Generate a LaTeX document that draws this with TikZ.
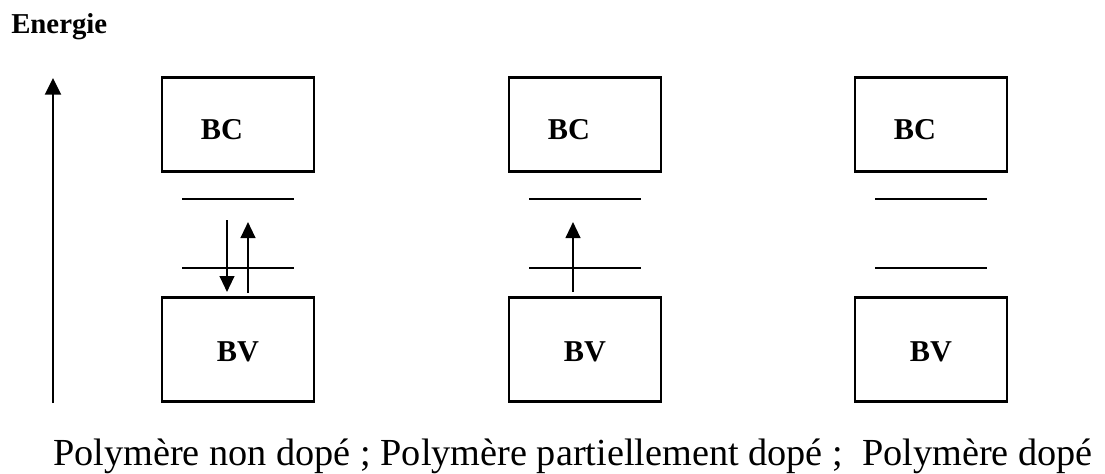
\documentclass[tikz,border=0pt]{standalone}
\usepackage{fontspec}
\setmainfont{Liberation Serif}
\usetikzlibrary{arrows.meta}
\begin{document}
\begin{tikzpicture}[x=0.75pt,y=-0.75pt,
  band/.style={draw,line width=2.2pt,minimum width=114pt,minimum height=70pt,inner sep=0pt},
  bv/.style={draw,line width=2.2pt,minimum width=114pt,minimum height=78pt,inner sep=0pt},
  lbl/.style={font=\fontsize{22.7}{26}\selectfont\bfseries,inner sep=0pt,anchor=base},
  level/.style={line width=1.4pt},
  trans/.style={line width=1.6pt,-{Triangle[length=12pt,width=11pt]}},
  axis/.style={line width=1.6pt,-{Triangle[length=12.5pt,width=12pt]}}]
\useasboundingbox (0,0) rectangle (1105,474);
% axis
\node[font=\fontsize{21.6}{24}\selectfont\bfseries,inner sep=0pt,anchor=base west] (en) at (11,34) {Energie};
\coordinate (a0) at (53,403);
\coordinate (a1) at (53,78);
\draw[axis] (a0) -- (a1);
% columns
\foreach \i/\cx in {1/238,2/585,3/931}{
  \node[band] (bc\i) at (\cx,124.5) {};
  \node[bv] (bv\i) at (\cx,349.5) {};
  \node[lbl] (bct\i) at (\cx-16,140) {BC};
  \node[lbl] (bvt\i) at (\cx,361) {BV};
  \coordinate (u\i l) at (\cx-56,199);
  \coordinate (u\i r) at (\cx+56,199);
  \coordinate (d\i l) at (\cx-56,268);
  \coordinate (d\i r) at (\cx+56,268);
  \draw[level] (u\i l) -- (u\i r);
  \draw[level] (d\i l) -- (d\i r);
}
% transitions
\coordinate (t1a) at (227,220);
\coordinate (t1b) at (227,292);
\coordinate (t2a) at (248,293);
\coordinate (t2b) at (248,222);
\coordinate (t3a) at (573,292);
\coordinate (t3b) at (573,222);
\draw[trans] (t1a) -- (t1b);
\draw[trans] (t2a) -- (t2b);
\draw[trans] (t3a) -- (t3b);
% caption
\node[font=\fontsize{28.7}{32}\selectfont,inner sep=0pt,anchor=base west] (cap) at (53,465) {Polymère non dopé ; Polymère partiellement dopé ;\ \ Polymère dopé};
\end{tikzpicture}
\end{document}
